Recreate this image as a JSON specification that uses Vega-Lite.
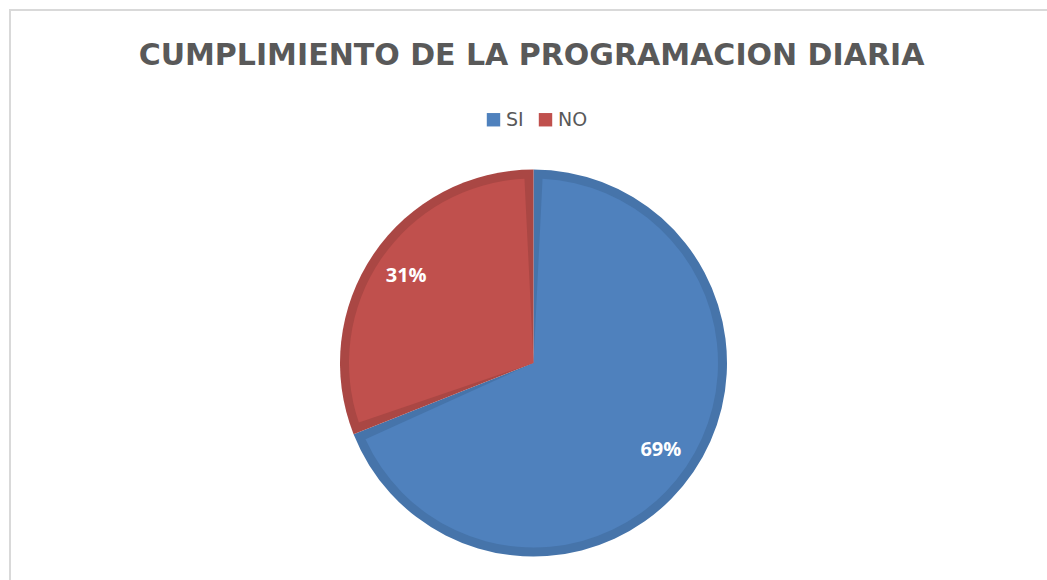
{
  "$schema": "https://vega.github.io/schema/vega-lite/v6.json",
  "width": 1047,
  "height": 706,
  "autosize": {"type": "none"},
  "padding": {"left": 10, "top": 10, "right": 0, "bottom": 0},
  "background": "white",
  "view": {"stroke": "#d9d9d9", "strokeWidth": 2, "fill": "white"},
  "title": {
    "text": "CUMPLIMIENTO DE LA PROGRAMACION DIARIA",
    "anchor": "middle",
    "frame": "group",
    "offset": -61,
    "dx": -2,
    "font": "DejaVu Sans",
    "fontSize": 30,
    "fontWeight": "bold",
    "color": "#595959"
  },
  "data": {
    "values": [
      {"respuesta": "SI", "porcentaje": 0.69},
      {"respuesta": "NO", "porcentaje": 0.31}
    ]
  },
  "encoding": {
    "theta": {"field": "porcentaje", "type": "quantitative", "stack": true},
    "order": {"field": "respuesta", "sort": "descending"}
  },
  "layer": [
    {
      "mark": {"type": "arc", "outerRadius": 193.5},
      "encoding": {
        "color": {
          "field": "respuesta",
          "type": "nominal",
          "scale": {"domain": ["SI", "NO"], "range": ["#4674AA", "#AA4744"]},
          "legend": null
        }
      }
    },
    {
      "mark": {"type": "arc", "outerRadius": 184.5, "padAngle": 0.098},
      "encoding": {
        "color": {
          "field": "respuesta",
          "type": "nominal",
          "scale": {"domain": ["SI", "NO"], "range": ["#4F81BD", "#C0504D"]},
          "legend": {
            "title": null,
            "orient": "none",
            "direction": "horizontal",
            "legendX": 474,
            "legendY": 100,
            "symbolType": "square",
            "symbolSize": 180,
            "symbolStrokeWidth": 0,
            "labelFont": "DejaVu Sans",
            "labelFontSize": 19,
            "labelColor": "#595959",
            "labelOffset": 3,
            "columnPadding": 12
          }
        }
      }
    },
    {
      "mark": {
        "type": "text",
        "radius": 154,
        "font": "Open Sans",
        "fontWeight": "bold",
        "fontSize": 20,
        "color": "white",
        "align": "center",
        "baseline": "middle"
      },
      "encoding": {
        "text": {"field": "porcentaje", "type": "quantitative", "format": ".0%"}
      }
    }
  ],
  "resolve": {"scale": {"color": "independent"}},
  "config": {
    "view": {"stroke": "#d9d9d9", "strokeWidth": 2}
  }
}
